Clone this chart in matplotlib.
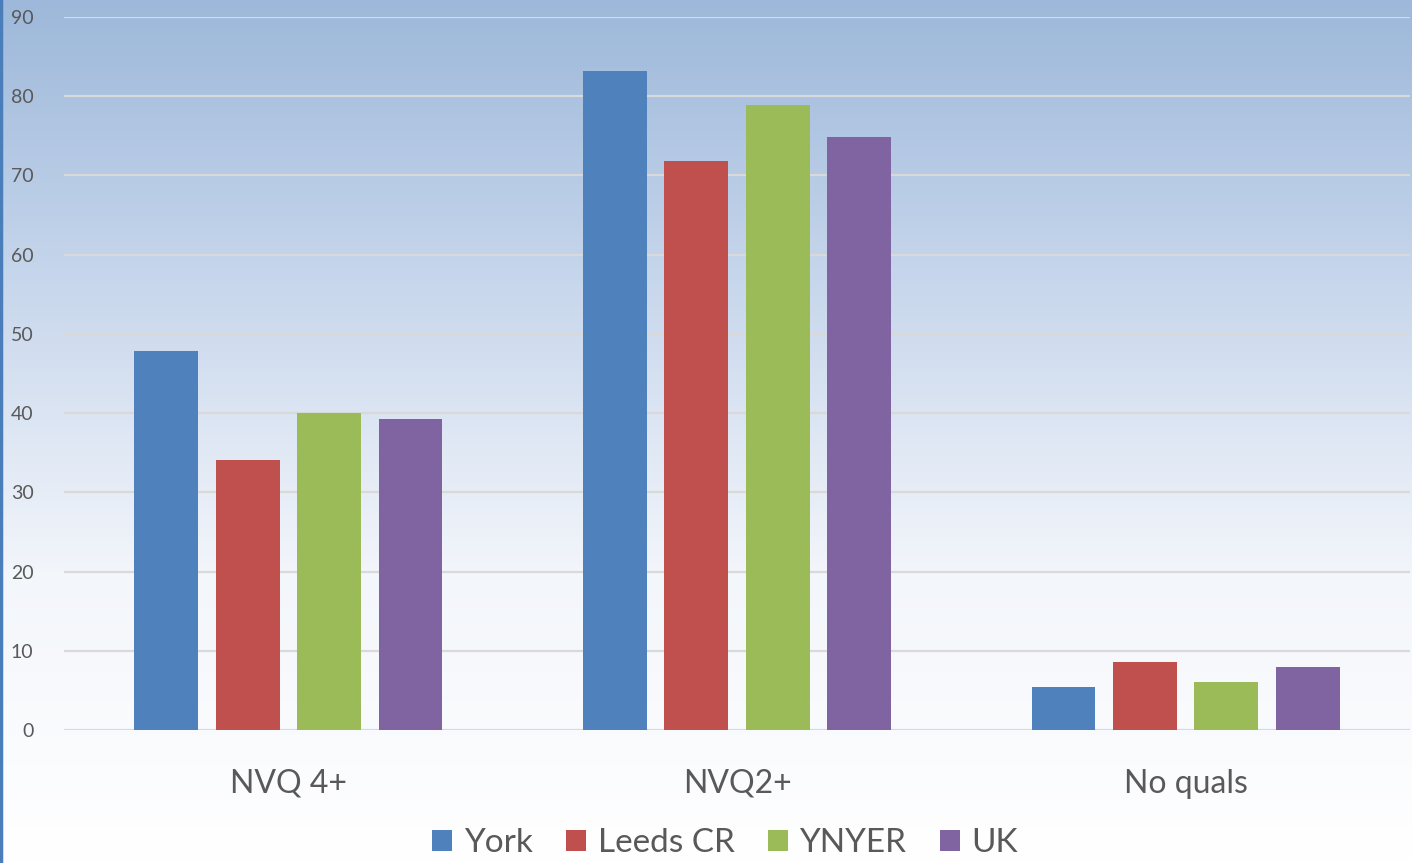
import numpy as np
import matplotlib
matplotlib.use("Agg")
from matplotlib import pyplot as plt
from matplotlib.colors import LinearSegmentedColormap

categories = ['NVQ 4+', 'NVQ2+', 'No quals']
series = ['York', 'Leeds CR', 'YNYER', 'UK']
york = [47.8, 83.2, 5.4]
leeds = [34.1, 71.8, 8.6]
ynyer = [40.0, 78.9, 6.1]
uk = [39.2, 74.9, 8.0]
colors = ['#4f81bd', '#c0504d', '#9bbb59', '#8064a2']

plt.rcParams['font.family'] = ['Lato', 'DejaVu Sans']

fig = plt.figure(figsize=(14.12, 8.63), dpi=100)

# gradient background over the whole figure
bg = fig.add_axes([0, 0, 1, 1], zorder=0)
grad = LinearSegmentedColormap.from_list('g', ['#ffffff', '#f3f6fb', '#c8d7ec', '#9db8da'])
y = np.linspace(0, 1, 256).reshape(-1, 1)
bg.imshow(y, cmap=grad, aspect='auto', origin='lower', extent=[0, 1, 0, 1])
bg.axvline(0.001, color='#4a7ebb', lw=2.5)
bg.set_xlim(0, 1)
bg.set_ylim(0, 1)
bg.axis('off')

ax = fig.add_axes([64/1412, 133/863, 1346/1412, 713/863], zorder=1)
ax.patch.set_alpha(0)

x = np.arange(len(categories))
w = 0.1425
step = 0.1815
for i, (vals, name) in enumerate(zip([york, leeds, ynyer, uk], series)):
    ax.bar(x + (i - 1.5) * step, vals, w, color=colors[i], label=name, zorder=3)

ax.set_xlim(-0.5, 2.5)
ax.set_ylim(0, 90)
ax.set_yticks(np.arange(0, 91, 10))
ax.yaxis.grid(True, color='#d9d9d9', lw=1.6, zorder=0)
ax.set_axisbelow(True)
for s in ax.spines.values():
    s.set_visible(False)
ax.tick_params(axis='y', length=0, pad=22, labelsize=14, labelcolor='#595959')
ax.tick_params(axis='x', length=0, pad=28, labelsize=23, labelcolor='#595959')
ax.set_xticks(x)
ax.set_xticklabels(categories)

fig.legend(loc='center', bbox_to_anchor=(725/1412, 1 - 843/863), ncol=4, frameon=False,
           fontsize=24, labelcolor='#595959', handlelength=0.6, handleheight=0.6,
           handletextpad=0.35, columnspacing=1.0)

fig.savefig('out.png', dpi=100)
